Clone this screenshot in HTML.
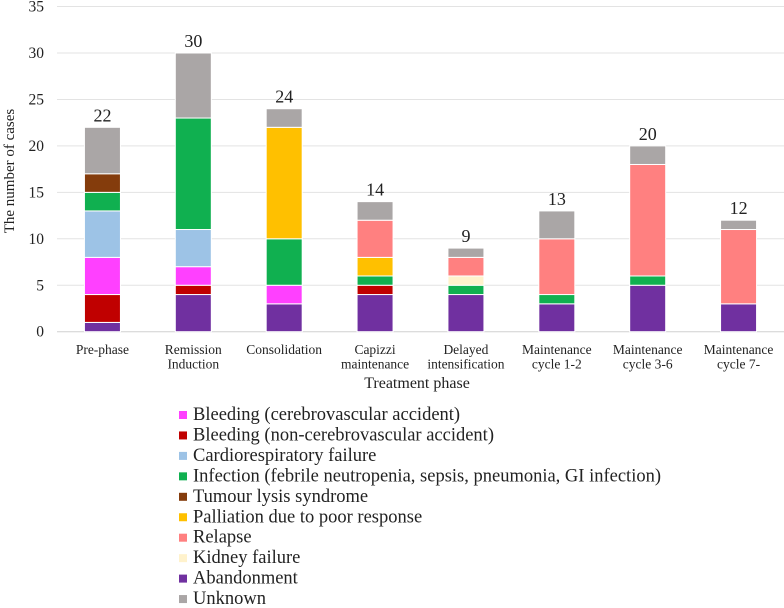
<!DOCTYPE html>
<html><head><meta charset="utf-8"><style>
body{margin:0;background:#fff;}
svg{display:block;font-family:"Liberation Serif","Times New Roman",Times,"DejaVu Serif",serif;}
svg text{font-family:"Liberation Serif","Times New Roman",Times,"DejaVu Serif",serif;}
</style></head><body>
<svg id="chart" width="784" height="608"></svg>
<script>
const categories=["Pre-phase","Remission|Induction","Consolidation","Capizzi|maintenance","Delayed|intensification","Maintenance|cycle 1-2","Maintenance|cycle 3-6","Maintenance|cycle 7-"];
const seriesNames=["Abandonment","Bleeding (non-cerebrovascular accident)","Bleeding (cerebrovascular accident)","Cardiorespiratory failure","Infection (febrile neutropenia, sepsis, pneumonia, GI infection)","Tumour lysis syndrome","Palliation due to poor response","Kidney failure","Relapse","Unknown"];
const seriesColors=["#7030a0","#c00000","#ff40ff","#9dc3e6","#10b050","#843c0c","#ffc000","#fff2cc","#ff8080","#aaa6a6"];
const abandonment=[1,4,3,4,4,3,5,3];
const bleedingNon=[3,1,0,1,0,0,0,0];
const bleedingCva=[4,2,2,0,0,0,0,0];
const cardio=[5,4,0,0,0,0,0,0];
const infection=[2,12,5,1,1,1,1,0];
const tumourLysis=[2,0,0,0,0,0,0,0];
const palliation=[0,0,12,2,0,0,0,0];
const kidney=[0,0,0,0,1,0,0,0];
const relapse=[0,0,0,4,2,6,12,8];
const unknown=[5,7,2,2,1,3,2,1];
const series=[abandonment,bleedingNon,bleedingCva,cardio,infection,tumourLysis,palliation,kidney,relapse,unknown];
const yTicks=[0,5,10,15,20,25,30,35];
const legendOrder=[2,1,3,4,5,6,8,7,0,9];

const FF='"Liberation Serif","Times New Roman",Times,"DejaVu Serif",serif';
const svg=document.getElementById('chart');
const NS='http://www.w3.org/2000/svg';
function mk(t,a,txt){const e=document.createElementNS(NS,t);for(const k in a)e.setAttribute(k,a[k]);if(txt!==undefined){e.textContent=txt;e.setAttribute('font-family',FF);}svg.appendChild(e);return e;}
const x0=57,x1=784,y0=331.7,unit=9.29,step=(x1-x0)/categories.length,bw=36;
const yS=v=>y0-v*unit;
const xC=i=>x0+step*(i+0.5);
yTicks.forEach(t=>{
 const l=mk('line',{x1:x0,x2:x1,y1:yS(t),y2:yS(t),stroke:t===0?'#d0d0d0':'#e3e3e3','stroke-width':1});
 
 
 const tx=mk('text',{x:44,y:yS(t)+5,'text-anchor':'end','font-size':15.5,fill:'#222'},t);
 
 
});
const yt=mk('text',{x:0,y:0,transform:'translate(14,171) rotate(-90)','text-anchor':'middle','font-size':15,fill:'#222'},'The number of cases');


categories.forEach((c,i)=>{
 let acc=0;
 series.forEach((s,k)=>{
  const v=s[i]; if(!v)return;
  const r=mk('rect',{x:xC(i)-bw/2,y:yS(acc+v),width:bw,height:v*unit,fill:seriesColors[k],stroke:'#fff','stroke-width':1});
  
  
  acc+=v;
 });
 const tot=mk('text',{x:xC(i),y:yS(acc)-6,'text-anchor':'middle','font-size':18,fill:'#222'},acc);
 
 
 c.split('|').forEach((ln,j)=>{
  const t=mk('text',{x:xC(i),y:354+j*14.5,'text-anchor':'middle','font-size':13.5,fill:'#222'},ln);
  
  
 });
});
const xt=mk('text',{x:417,y:388,'text-anchor':'middle','font-size':16,fill:'#222'},'Treatment phase');


legendOrder.forEach((k,j)=>{
 const y=420+j*20.45;
 const sq=mk('rect',{x:179,y:y-9,width:8,height:8,fill:seriesColors[k]});
 
 
 const t=mk('text',{x:193,y:y,'font-size':18.5,fill:'#222'},seriesNames[k]);
 
 
});
</script>
</body></html>
